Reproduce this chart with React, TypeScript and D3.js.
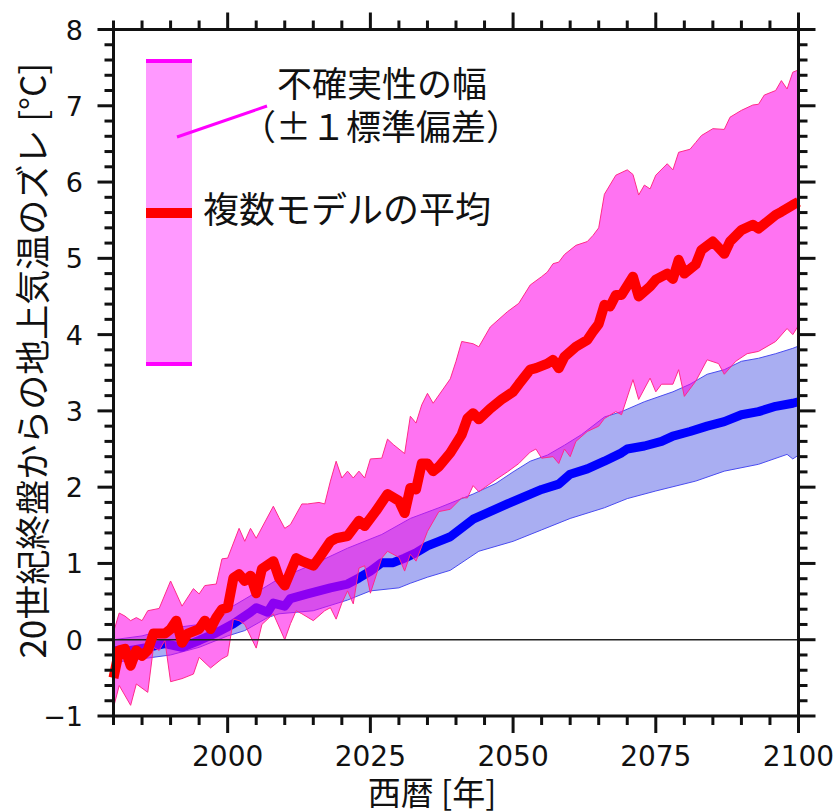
import React from 'react';
import * as d3 from 'd3';

// ---- data ----
const redYears = [1980,1981,1982,1983,1984,1985,1986,1987,1989,1990,1991,1992,1993,1995,1996,1997,1998,1999,2000,2001,2002,2003,2004,2005,2006,2008,2009,2010,2012,2013,2015,2016,2018,2019,2021,2023,2024,2026,2028,2030,2031,2032,2033,2034,2035,2036,2037,2039,2041,2042,2043,2044,2046,2048,2050,2051,2053,2054,2056,2057,2058,2059,2061,2063,2064,2065,2066,2067,2068,2069,2071,2072,2074,2075,2077,2078,2079,2080,2082,2083,2085,2087,2088,2090,2092,2093,2096,2097,2099,2100];
const redMean = [-0.50,-0.14,-0.12,-0.34,-0.14,-0.21,-0.14,0.08,0.08,0.14,0.25,-0.04,0.08,0.14,0.25,0.14,0.29,0.40,0.42,0.81,0.86,0.77,0.84,0.61,0.93,1.03,0.81,0.71,1.07,1.03,0.97,1.07,1.29,1.33,1.36,1.56,1.49,1.69,1.91,1.82,1.66,1.99,1.97,2.31,2.31,2.21,2.27,2.45,2.69,2.90,2.97,2.89,3.03,3.15,3.25,3.35,3.54,3.56,3.62,3.67,3.56,3.71,3.84,3.93,4.04,4.14,4.39,4.37,4.52,4.52,4.76,4.50,4.63,4.72,4.80,4.73,4.98,4.80,4.92,5.11,5.22,5.06,5.22,5.37,5.44,5.39,5.57,5.61,5.70,5.74];

const redUpYears = [1980,1981,1982,1983,1984,1985,1986,1988,1990,1992,1994,1995,1996,1998,1999,2000,2002,2003,2004,2005,2008,2009,2010,2011,2013,2014,2016,2017,2018,2019,2020,2021,2022,2023,2024,2025,2027,2028,2029,2031,2032,2033,2034,2035,2036,2039,2040,2041,2043,2044,2046,2049,2051,2053,2055,2056,2057,2058,2059,2061,2063,2064,2065,2066,2068,2070,2071,2072,2073,2074,2075,2077,2078,2079,2081,2082,2083,2085,2087,2088,2090,2092,2093,2094,2096,2097,2098,2099,2100];
const redUpper = [0.10,0.35,0.31,0.25,0.29,0.25,0.38,0.41,0.77,0.44,0.67,0.60,0.71,0.73,1.06,1.07,1.46,1.29,1.46,1.33,1.75,1.60,1.46,1.51,1.78,1.78,1.80,1.78,2.08,2.34,2.12,2.21,2.12,2.21,2.12,2.37,2.38,2.63,2.56,2.44,2.93,2.84,3.08,3.23,3.10,3.42,3.65,3.91,3.88,3.84,4.10,4.30,4.41,4.65,4.76,4.82,4.93,4.95,5.05,5.17,5.22,5.30,5.40,5.84,6.09,6.16,6.10,5.83,5.96,5.91,6.09,6.24,6.16,6.39,6.43,6.52,6.61,6.70,6.69,6.85,6.94,7.01,7.02,7.14,7.20,7.33,7.22,7.44,7.47];

const redLoYears = [1980,1981,1983,1984,1986,1987,1988,1989,1990,1992,1994,1995,1997,1999,2000,2001,2002,2003,2005,2006,2008,2010,2011,2012,2013,2015,2017,2018,2019,2020,2021,2022,2023,2024,2025,2027,2028,2030,2031,2032,2033,2035,2037,2039,2041,2042,2043,2044,2047,2049,2051,2053,2054,2055,2057,2058,2059,2060,2061,2063,2065,2066,2068,2069,2071,2072,2074,2075,2076,2078,2079,2080,2082,2084,2086,2087,2089,2091,2093,2096,2098,2099,2100];
const redLower = [-0.89,-0.60,-0.86,-0.58,-0.69,-0.10,-0.14,-0.01,-0.55,-0.51,-0.45,-0.23,-0.37,-0.25,-0.21,0.27,0.25,0.20,-0.11,0.20,0.34,0.00,0.21,0.38,0.34,0.25,0.38,0.42,0.27,0.48,0.64,0.47,0.94,0.97,0.61,1.07,1.16,1.08,0.90,1.12,1.03,1.42,1.68,1.71,1.86,1.86,2.02,1.94,2.10,2.20,2.31,2.46,2.50,2.38,2.40,2.31,2.50,2.40,2.60,2.73,2.80,2.90,2.99,2.95,3.41,3.15,3.43,3.25,3.35,3.35,3.54,3.19,3.39,3.67,3.62,3.48,3.65,3.75,3.78,3.91,4.08,4.00,4.12];

const blueYears = [1980,1983,1986,1989,1992,1995,1998,2001,2004,2005,2007,2008,2010,2011,2014,2018,2021,2023,2025,2027,2029,2031,2033,2035,2037,2039,2043,2049,2055,2058,2060,2063,2066,2069,2070,2073,2076,2078,2081,2084,2087,2090,2093,2096,2099,2100];
const blueMean = [-0.14,-0.14,-0.10,-0.05,-0.10,-0.01,0.09,0.21,0.36,0.42,0.36,0.48,0.44,0.54,0.60,0.68,0.73,0.81,0.90,1.01,1.01,1.07,1.14,1.23,1.29,1.35,1.58,1.78,1.97,2.04,2.17,2.24,2.34,2.45,2.50,2.54,2.60,2.67,2.73,2.80,2.86,2.95,2.99,3.06,3.10,3.12];

const blueUpYears = [1980,1985,1990,1995,2000,2005,2009,2015,2021,2027,2032,2037,2043,2047,2050,2053,2056,2059,2062,2066,2069,2073,2078,2081,2084,2087,2090,2093,2096,2099,2100];
const blueUpper = [0.00,0.05,0.15,0.20,0.40,0.62,0.80,0.99,1.20,1.38,1.59,1.73,1.91,2.05,2.20,2.34,2.42,2.55,2.69,2.92,2.99,3.12,3.25,3.35,3.48,3.54,3.65,3.69,3.75,3.82,3.85];

const blueLoYears = [1980,1985,1990,1995,2000,2003,2007,2009,2015,2021,2025,2030,2032,2035,2039,2044,2050,2055,2060,2066,2070,2075,2082,2087,2093,2098,2099,2100];
const blueLower = [-0.30,-0.25,-0.20,-0.10,0.05,0.12,0.29,0.34,0.38,0.52,0.64,0.68,0.74,0.82,0.91,1.16,1.29,1.44,1.59,1.73,1.85,1.95,2.08,2.21,2.30,2.43,2.37,2.42];

const xMajorTicks = [2000, 2025, 2050, 2075, 2100];
const yMajorTicks = [-1, 0, 1, 2, 3, 4, 5, 6, 7, 8];
const yTickLabels = ['−1', '0', '1', '2', '3', '4', '5', '6', '7', '8'];

const W = 840;
const H = 812;

export default function App() {
  const x = d3.scaleLinear().domain([1980, 2100]).range([113.5, 798.5]);
  const y = d3.scaleLinear().domain([-1, 8]).range([716, 29.5]);

  const pts = (ys: number[], vs: number[]) => ys.map((yr, i) => [x(yr), y(vs[i])] as [number, number]);
  const line = d3.line<[number, number]>();

  const band = (uy: number[], uv: number[], ly: number[], lv: number[]) => {
    const up = pts(uy, uv);
    const lo = pts(ly, lv).reverse();
    return line(up.concat(lo)) + 'Z';
  };

  const xMinor = d3.range(1980, 2101, 5).filter((v) => !xMajorTicks.includes(v));
  const yMinor = d3.range(-10, 81, 2).map((v) => v / 10).filter((v) => !Number.isInteger(v));

  const axisColor = '#111';
  const tickW = 3;
  const [xl, xr] = x.range();
  const [yb, yt] = y.range();

  return (
    <div style={{ position: 'absolute', left: 0, top: 0, width: W, height: H, background: '#fff' }}>
      <svg width={W} height={H} style={{ display: 'block' }}>
        <rect x={0} y={0} width={W} height={H} fill="#fff" />
        {/* blue band */}
        <path d={band(blueUpYears, blueUpper, blueLoYears, blueLower)} fill="#a9aef2" stroke="#4a4cf0" strokeWidth={1} />
        <path d={line(pts(blueYears, blueMean)) || ''} fill="none" stroke="#0000ff" strokeWidth={9} strokeLinejoin="round" />
        {/* pink band */}
        <path d={band(redUpYears, redUpper, redLoYears, redLower)} fill="rgba(255,0,232,0.55)" stroke="#ff2a8a" strokeWidth={1} />
        {/* zero line */}
        <line x1={xl} x2={xr} y1={y(0)} y2={y(0)} stroke="#222" strokeWidth={1.6} />
        <path d={line(pts(redYears, redMean)) || ''} fill="none" stroke="#ff0000" strokeWidth={10} strokeLinejoin="round" />

        {/* frame */}
        <rect x={xl} y={yt} width={xr - xl} height={yb - yt} fill="none" stroke={axisColor} strokeWidth={3} />
        {/* x ticks */}
        {xMajorTicks.map((t) => (
          <g key={'xM' + t}>
            <line x1={x(t)} x2={x(t)} y1={yb} y2={yb + 17} stroke={axisColor} strokeWidth={tickW} />
            <line x1={x(t)} x2={x(t)} y1={yt} y2={yt - 17} stroke={axisColor} strokeWidth={tickW} />
            <text x={x(t)} y={766} textAnchor="middle" fontFamily="DejaVu Sans" fontSize={28} fill="#111">{t}</text>
          </g>
        ))}
        {xMinor.map((t) => (
          <g key={'xm' + t}>
            <line x1={x(t)} x2={x(t)} y1={yb} y2={yb + 9} stroke={axisColor} strokeWidth={tickW} />
            <line x1={x(t)} x2={x(t)} y1={yt} y2={yt - 9} stroke={axisColor} strokeWidth={tickW} />
          </g>
        ))}
        {/* y ticks */}
        {yMajorTicks.map((t, i) => (
          <g key={'yM' + t}>
            <line x1={xl} x2={xl - 16} y1={y(t)} y2={y(t)} stroke={axisColor} strokeWidth={tickW} />
            <line x1={xr} x2={xr + 17} y1={y(t)} y2={y(t)} stroke={axisColor} strokeWidth={tickW} />
            <text x={83} y={y(t) + 10} textAnchor="end" fontFamily="DejaVu Sans" fontSize={27} fill="#111">{yTickLabels[i]}</text>
          </g>
        ))}
        {yMinor.map((t) => (
          <g key={'ym' + t}>
            <line x1={xl} x2={xl - 9} y1={y(t)} y2={y(t)} stroke={axisColor} strokeWidth={tickW} />
            <line x1={xr} x2={xr + 9} y1={y(t)} y2={y(t)} stroke={axisColor} strokeWidth={tickW} />
          </g>
        ))}

        {/* axis titles */}
        <text x={432} y={805} textAnchor="middle" fontFamily="Noto Sans CJK JP" fontSize={33} fill="#111">西暦 [年]</text>
        <text transform={`translate(46, ${(yb + yt) / 2 - 12}) rotate(-90)`} textAnchor="middle" fontFamily="Noto Sans CJK JP" fontSize={35} fill="#111">20世紀終盤からの地上気温のズレ [°C]</text>

        {/* legend */}
        <rect x={146} y={59} width={46} height={307} fill="#ff99ff" />
        <line x1={146} x2={192} y1={61} y2={61} stroke="#ff00ff" strokeWidth={4} />
        <line x1={146} x2={192} y1={364} y2={364} stroke="#ff00ff" strokeWidth={4} />
        <line x1={146} x2={192} y1={213} y2={213} stroke="#ff0000" strokeWidth={10} />
        <line x1={177} y1={137} x2={267} y2={106} stroke="#ff00ff" strokeWidth={3} />
        <text x={382} y={97} textAnchor="middle" fontFamily="Noto Sans CJK JP" fontSize={35} fill="#111">不確実性の幅</text>
        <text x={381} y={140} textAnchor="middle" fontFamily="Noto Sans CJK JP" fontSize={35} fill="#111">（±１標準偏差）</text>
        <text x={203} y={223} textAnchor="start" fontFamily="Noto Sans CJK JP" fontSize={36} fill="#111">複数モデルの平均</text>
      </svg>
    </div>
  );
}
